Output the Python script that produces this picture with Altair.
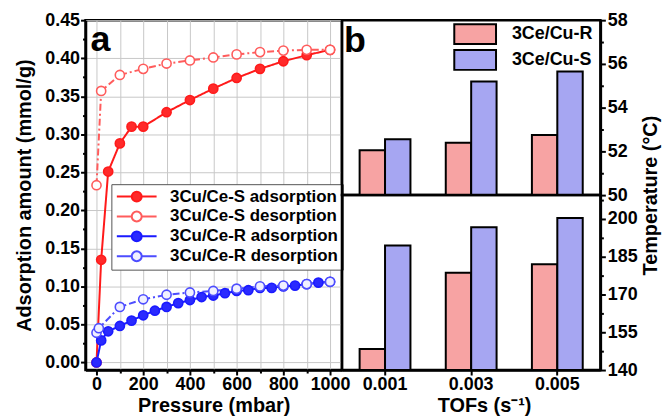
import altair as alt
import pandas as pd

FONT = "Liberation Sans"

# ---------------- panel a : adsorption / desorption isotherms ----------------
series_names = ["3Cu/Ce-S adsorption", "3Cu/Ce-S desorption",
                "3Cu/Ce-R adsorption", "3Cu/Ce-R desorption"]

s_ads_p = [0, 20, 50, 100, 150, 200, 300, 400, 500, 600, 700, 800, 900, 1000]
s_ads_v = [0.000, 0.135, 0.251, 0.288, 0.310, 0.310, 0.329, 0.345, 0.360,
           0.374, 0.386, 0.396, 0.404, 0.411]
s_des_p = [0, 20, 100, 200, 300, 400, 500, 600, 700, 800, 900, 1000]
s_des_v = [0.233, 0.357, 0.378, 0.386, 0.393, 0.397, 0.401, 0.405, 0.408,
           0.410, 0.411, 0.411]
r_ads_p = [0, 20, 50, 100, 150, 200, 250, 300, 350, 400, 450, 500, 550, 600,
           650, 700, 750, 800, 850, 900, 950, 1000]
r_ads_v = [0.000, 0.029, 0.041, 0.048, 0.055, 0.062, 0.068, 0.073, 0.078,
           0.082, 0.086, 0.088, 0.091, 0.094, 0.095, 0.098, 0.098, 0.100,
           0.101, 0.103, 0.105, 0.106]
r_des_p = [0, 10, 100, 200, 300, 400, 500, 600, 700, 800, 900, 1000]
r_des_v = [0.039, 0.045, 0.073, 0.083, 0.089, 0.092, 0.094, 0.097, 0.100,
           0.101, 0.103, 0.106]

line_colors = ["#ff1a1a", "#ff5c5c", "#1a1aff", "#4d4dff"]
fill_colors = ["#ff2a2a", "#ffffff", "#2a2aff", "#f0f0ff"]
dashes = [[1, 0], [7, 3, 2, 3], [1, 0], [7, 3, 2, 3]]

# ---------------- panel b : bar charts ----------------
tofs = ["0.001", "0.003", "0.005"]
bar_series = ["3Ce/Cu-R", "3Ce/Cu-S"]
top_r = [52.05, 52.40, 52.75]
top_s = [52.55, 55.20, 55.65]
bot_r = [148.4, 178.7, 182.0]
bot_s = [189.5, 196.7, 200.4]
bar_colors = ["#f7a3a3", "#a6a6f2"]

rows = []
for name, ps, vs in zip(series_names, [s_ads_p, s_des_p, r_ads_p, r_des_p],
                        [s_ads_v, s_des_v, r_ads_v, r_des_v]):
    for i, (p, v) in enumerate(zip(ps, vs)):
        rows.append({"series": name, "pressure": p, "amount": v, "order": i})
iso = pd.DataFrame(rows)

xa = alt.X("pressure:Q",
           scale=alt.Scale(domain=[-47, 1051], nice=False, zero=False),
           axis=alt.Axis(title="Pressure (mbar)",
                         values=list(range(0, 1001, 100)), format="d",
                         labelExpr="datum.value % 200 === 0 ? datum.label : ''",
                         tickSize={"condition": {"test": "datum.value % 200 === 0", "value": 5}, "value": 3},
                         grid=True, gridColor="#c8c8c8", gridWidth=1,
                         labelPadding=1, titlePadding=2, labelFlush=False))
ya_vals = [round(0.025 * k, 3) for k in range(0, 19)]
ya = alt.Y("amount:Q",
           scale=alt.Scale(domain=[-0.01, 0.45], nice=False, zero=False),
           axis=alt.Axis(title="Adsorption amount (mmol/g)",
                         values=ya_vals, format=".2f",
                         labelExpr="round(datum.value*1000) % 50 === 0 ? datum.label : ''",
                         tickSize={"condition": {"test": "round(datum.value*1000) % 50 === 0", "value": 5}, "value": 3},
                         grid=True, gridColor="#c8c8c8", gridWidth=1,
                         gridOpacity={"condition": {"test": "round(datum.value*1000) % 50 === 0", "value": 1}, "value": 0},
                         labelPadding=1, titlePadding=10, labelFlush=False))

base = alt.Chart(iso).encode(x=xa, y=ya)

lines = base.mark_line(strokeWidth=2).encode(
    stroke=alt.Stroke("series:N", scale=alt.Scale(domain=series_names, range=line_colors), legend=None),
    strokeDash=alt.StrokeDash("series:N", scale=alt.Scale(domain=series_names, range=dashes), legend=None),
    order="order:Q",
)

legend_path = ("M-2.857,0H-0.714M0.714,0H2.857"
               "M0.714,0A0.714,0.714,0,1,1,-0.714,0A0.714,0.714,0,1,1,0.714,0")
leg_a = alt.Legend(title=None, orient="none", legendX=26, legendY=165,
                   symbolType=legend_path, symbolSize=196, symbolStrokeWidth=2,
                   symbolOffset=13, labelOffset=25, rowPadding=1,
                   labelFont=FONT, labelFontSize=17, labelFontWeight="bold",
                   labelColor="black", fillColor="white", strokeColor="#555555",
                   padding=4, labelLimit=300)

points = base.mark_point(size=85, filled=False, strokeWidth=1.6, opacity=1).encode(
    color=alt.Color("series:N", scale=alt.Scale(domain=series_names, range=line_colors), legend=leg_a),
    fill=alt.Fill("series:N", scale=alt.Scale(domain=series_names, range=fill_colors), legend=leg_a),
)

lab_a = alt.Chart(pd.DataFrame({"t": ["a"]})).mark_text(
    font=FONT, fontSize=36, fontWeight="bold", align="left", baseline="alphabetic", color="black"
).encode(text="t:N", x=alt.value(5), y=alt.value(31))

left = alt.layer(lines, points, lab_a).properties(width=258, height=352)

# ---------------- right panels ----------------
def bar_df(rv, sv):
    recs = []
    for t, a, b in zip(tofs, rv, sv):
        recs.append({"tof": t, "series": bar_series[0], "temp": a})
        recs.append({"tof": t, "series": bar_series[1], "temp": b})
    return pd.DataFrame(recs)

bar_scale = alt.Scale(domain=bar_series, range=bar_colors)
xband = alt.Scale(domain=tofs, paddingInner=0.41, paddingOuter=0.205)

rect_path = "M-2.1,-1H2.1V1H-2.1Z"
leg_b = alt.Legend(title=None, orient="none", legendX=113, legendY=3,
                   symbolType=rect_path, symbolSize=400, symbolStrokeColor="black",
                   symbolStrokeWidth=2, symbolOffset=10, labelOffset=26,
                   rowPadding=-2, padding=0,
                   labelFont=FONT, labelFontSize=18, labelFontWeight="bold",
                   labelColor="black")

top = alt.Chart(bar_df(top_r, top_s)).mark_bar(stroke="black", strokeWidth=2).encode(
    x=alt.X("tof:N", scale=xband, axis=None, sort=tofs),
    xOffset=alt.XOffset("series:N", sort=bar_series),
    y=alt.Y("temp:Q", scale=alt.Scale(domain=[50, 58], nice=False, zero=False),
            axis=alt.Axis(orient="right", values=list(range(50, 59)),
                          labelExpr="datum.value % 2 === 0 ? datum.label : ''",
                          tickSize={"condition": {"test": "datum.value % 2 === 0", "value": 5}, "value": 3},
                          grid=False, labelPadding=2,
                          title="Temperature (°C)", titleAngle=270,
                          titleX=50, titleY=176, titleAlign="center", titleBaseline="middle")),
    y2=alt.datum(50),
    fill=alt.Fill("series:N", scale=bar_scale, legend=leg_b),
)
lab_b = alt.Chart(pd.DataFrame({"t": ["b"]})).mark_text(
    font=FONT, fontSize=36, fontWeight="bold", align="left", baseline="alphabetic", color="black"
).encode(text="t:N", x=alt.value(2), y=alt.value(32))
top_panel = alt.layer(top, lab_b).properties(width=260, height=176)

bot_vals = [140 + 7.5 * k for k in range(0, 10)]
bottom = alt.Chart(bar_df(bot_r, bot_s)).mark_bar(stroke="black", strokeWidth=2).encode(
    x=alt.X("tof:N", scale=xband, sort=tofs,
            axis=alt.Axis(title="TOFs (s⁻¹)", labelAngle=0, tickSize=5,
                          labelPadding=1, titlePadding=2, titleX=143)),
    xOffset=alt.XOffset("series:N", sort=bar_series),
    y=alt.Y("temp:Q", scale=alt.Scale(domain=[140, 209.5], nice=False, zero=False),
            axis=alt.Axis(orient="right", values=bot_vals,
                          labelExpr="datum.value % 15 === 5 ? datum.label : ''",
                          tickSize={"condition": {"test": "datum.value % 15 === 5", "value": 5}, "value": 3},
                          grid=False, labelPadding=2, title=None)),
    y2=alt.datum(140),
    fill=alt.Fill("series:N", scale=bar_scale, legend=None),
).properties(width=260, height=176)

right = alt.vconcat(top_panel, bottom, spacing=0, bounds="flush")

chart = alt.hconcat(left, right, spacing=0, bounds="flush").resolve_scale(
    fill="independent", color="independent"
).properties(
    padding={"left": 5, "top": 0, "right": 2, "bottom": 0}
).configure_axis(
    labelFont=FONT, labelFontSize=18, labelFontWeight="bold", labelColor="black",
    titleFont=FONT, titleFontSize=20, titleFontWeight="bold", titleColor="black",
    domainColor="black", domainWidth=2.5, tickColor="black", tickWidth=2,
).configure_view(
    stroke="black", strokeWidth=2.5
).configure_legend(
    labelFont=FONT
)

chart.save("out.html", embed_options={"renderer": "svg", "actions": False})
